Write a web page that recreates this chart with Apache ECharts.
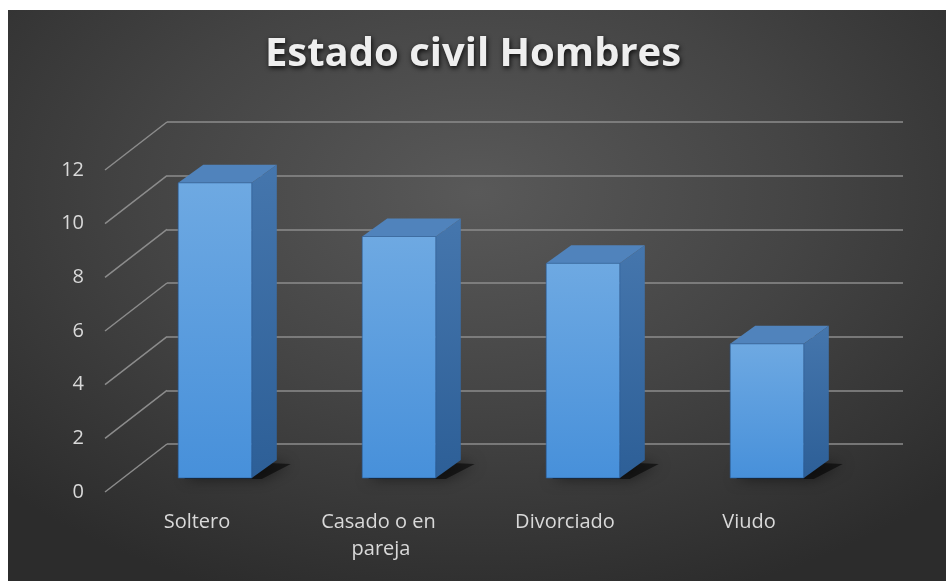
<!DOCTYPE html>
<html>
<head>
<meta charset="utf-8">
<script src="https://cdn.jsdelivr.net/npm/echarts@6/dist/echarts.min.js"></script>
<style>
  html, body { margin: 0; padding: 0; background: #ffffff; }
  #wrap { position: relative; width: 946px; height: 581px; background: #ffffff; }
  #panel { position: absolute; left: 8px; top: 10px; right: 0; bottom: 0;
    background: radial-gradient(ellipse 70% 75% at 50% 32%, #595959 0%, #444444 50%, #2c2c2c 100%); }
  #chart { position: absolute; left: 0; top: 0; width: 946px; height: 581px; }
</style>
</head>
<body>
<div id="wrap">
  <div id="panel"></div>
  <div id="chart"></div>
</div>
<script>
// Men's marital status counts
const categories = ['Soltero', 'Casado o en pareja', 'Divorciado', 'Viudo'];
const values = [11, 9, 8, 5];
const yTicks = [0, 2, 4, 6, 8, 10, 12];

// Pseudo-3D geometry: front label plane, bar plane and back wall
const WALL_DX = 62, WALL_DY = -48;     // front plane -> back wall
const BAR_DX = 25, BAR_DY = -18;       // bar depth
const labelFont = 'Open Sans';
const gridColor = '#8c8c8c';

const chart = echarts.init(document.getElementById('chart'), null, { renderer: 'canvas' });

function renderBar(params, api) {
  const i = api.value(0);
  const v = api.value(1);
  const top = api.coord([i, v]);
  const base = api.coord([i, 0]);
  const band = api.size([1, 0])[0];
  const w = band * 0.4;
  const xl = top[0] - w / 2, xr = top[0] + w / 2;
  const yt = top[1], yb = base[1];
  return {
    type: 'group',
    children: [
      {
        type: 'polygon',
        shape: { points: [[xl + 6, yb + 1], [xr + 10, yb + 1], [xr + BAR_DX + 14, yb + BAR_DY + 4], [xl + BAR_DX, yb + BAR_DY]] },
        style: { fill: 'rgba(0,0,0,0.55)', shadowBlur: 14, shadowColor: 'rgba(0,0,0,0.9)' }
      },
      {
        type: 'polygon',
        shape: { points: [[xr, yt], [xr + BAR_DX, yt + BAR_DY], [xr + BAR_DX, yb + BAR_DY], [xr, yb]] },
        style: { fill: new echarts.graphic.LinearGradient(0, 0, 0, 1, [
          { offset: 0, color: '#4576ad' }, { offset: 1, color: '#2d5f97' }]) }
      },
      {
        type: 'polygon',
        shape: { points: [[xl, yt], [xr, yt], [xr + BAR_DX, yt + BAR_DY], [xl + BAR_DX, yt + BAR_DY]] },
        style: { fill: '#5083bc' }
      },
      {
        type: 'rect',
        shape: { x: xl, y: yt, width: w, height: yb - yt },
        style: { fill: new echarts.graphic.LinearGradient(0, 0, 0, 1, [
          { offset: 0, color: '#6ea9e2' }, { offset: 1, color: '#4790da' }]),
          stroke: 'rgba(40,90,150,0.6)', lineWidth: 1 }
      }
    ]
  };
}

function renderDiagonal(params, api) {
  const y = api.coord([0, api.value(0)])[1];
  const x0 = params.coordSys.x;
  return {
    type: 'line',
    shape: { x1: x0, y1: y, x2: x0 + WALL_DX, y2: y + WALL_DY },
    style: { stroke: gridColor, lineWidth: 1.5 }
  };
}

const valueAxisBase = { type: 'value', min: 0, max: 12, interval: 2 };

chart.setOption({
  backgroundColor: 'transparent',
  animation: false,
  title: {
    text: 'Estado civil Hombres',
    left: 'center',
    top: 30,
    textStyle: {
      fontFamily: labelFont, fontWeight: 'bold', fontSize: 40, color: '#eeeeee',
      textShadowColor: 'rgba(0,0,0,0.85)', textShadowBlur: 5, textShadowOffsetX: 1, textShadowOffsetY: 2
    }
  },
  grid: [
    // front label plane
    { left: 105, right: 105, top: 170, bottom: 89 },
    // back wall
    { left: 167, right: 43, top: 122, bottom: 137 },
    // bar front plane
    { left: 123, right: 87, top: 156, bottom: 103 }
  ],
  xAxis: [
    {
      gridIndex: 0, type: 'category', data: categories,
      axisLine: { show: false }, axisTick: { show: false },
      axisLabel: { interval: 0, color: '#d9d9d9', fontFamily: labelFont, fontSize: 20, margin: 17,
        width: 135, overflow: 'break', lineHeight: 27 }
    },
    { gridIndex: 1, type: 'category', data: categories, show: false },
    { gridIndex: 2, type: 'category', data: categories, show: false }
  ],
  yAxis: [
    Object.assign({}, valueAxisBase, {
      gridIndex: 0,
      axisLine: { show: false }, axisTick: { show: false }, splitLine: { show: false },
      axisLabel: { color: '#d9d9d9', fontFamily: labelFont, fontSize: 20, margin: 21 }
    }),
    Object.assign({}, valueAxisBase, {
      gridIndex: 1,
      axisLine: { show: false }, axisTick: { show: false }, axisLabel: { show: false },
      splitLine: { show: true, lineStyle: { color: gridColor, width: 1.5 } }
    }),
    Object.assign({}, valueAxisBase, { gridIndex: 2, show: false })
  ],
  series: [
    {
      type: 'custom', xAxisIndex: 0, yAxisIndex: 0,
      renderItem: renderDiagonal,
      data: yTicks.map(t => [t]),
      encode: { y: 0 },
      silent: true, z: 1
    },
    {
      type: 'custom', xAxisIndex: 2, yAxisIndex: 2,
      renderItem: renderBar,
      data: values.map((v, i) => [i, v]),
      encode: { x: 0, y: 1 },
      z: 5
    }
  ]
});
</script>
</body>
</html>
